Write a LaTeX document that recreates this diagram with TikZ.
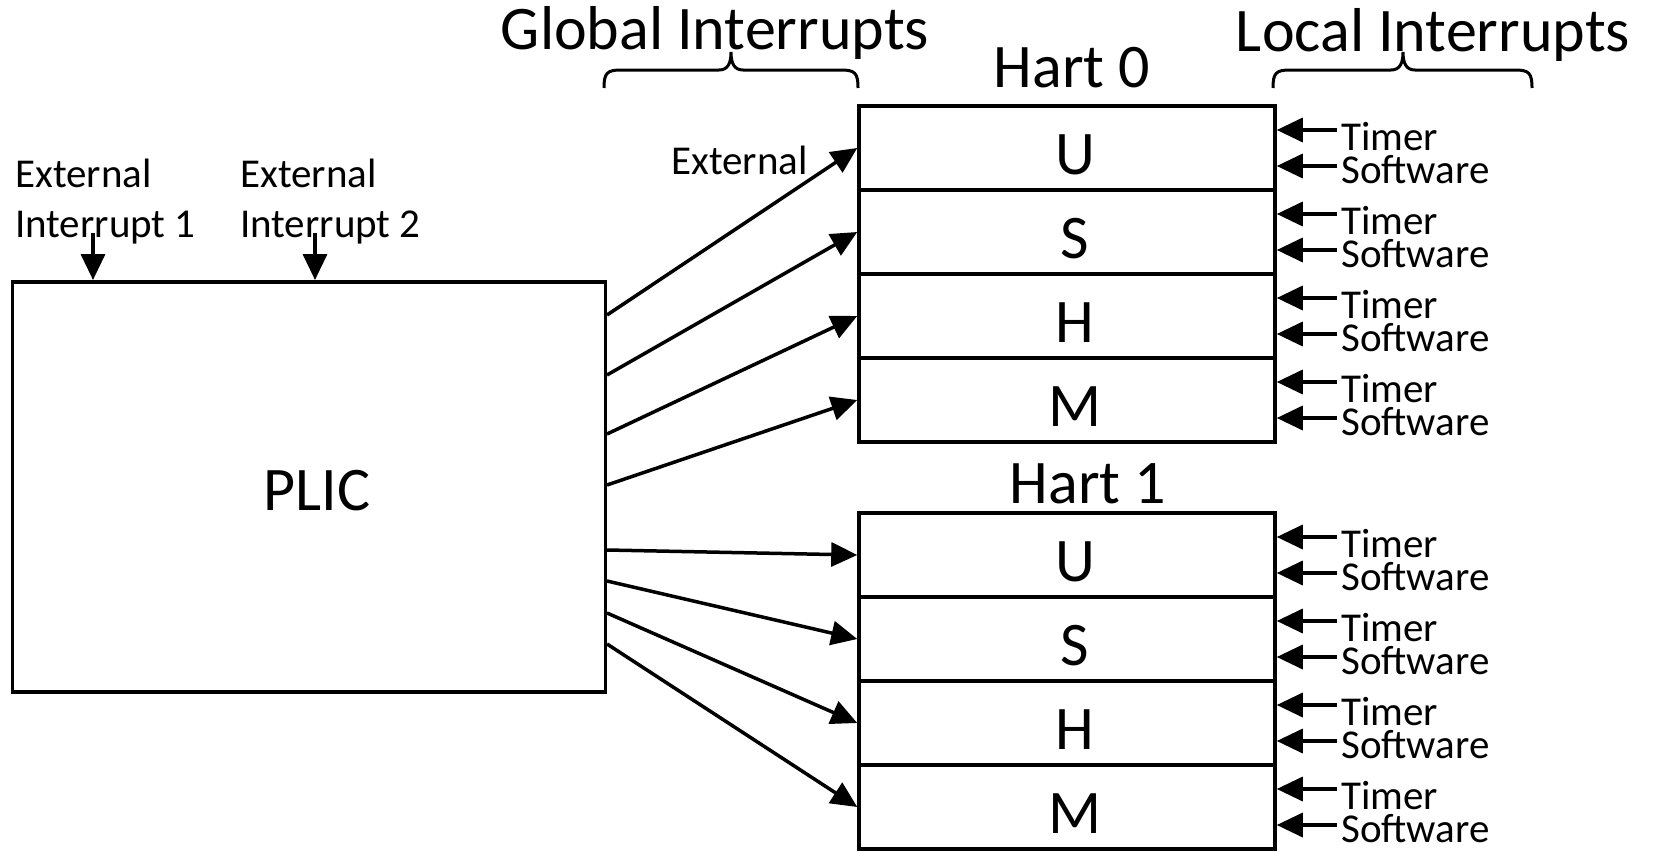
\documentclass[tikz,border=0pt]{standalone}
\usepackage{fontspec}
\setmainfont{Carlito}
\usetikzlibrary{arrows.meta,calc}
\begin{document}
\begin{tikzpicture}[x=1pt,y=-1pt,
  box/.style={draw,line width=3.5pt,inner sep=0pt},
  row/.style={box,minimum width=416pt,minimum height=84pt},
  big/.style={inner sep=0pt,font=\fontsize{62}{70}\selectfont},
  small/.style={inner sep=0pt,font=\fontsize{41}{49}\selectfont},
  arr/.style={line width=3.5pt,-{Triangle[length=26pt,width=24pt]}},
  brc/.style={line width=3pt}]
\useasboundingbox (0,0) rectangle (1656,851);
\node[box,minimum width=593pt,minimum height=410pt,anchor=north west] (plic) at (10.5,280) {};
\node[big] (plicl) at (317,491) {PLIC};
\foreach \n/\l/\c in {h0u/U/148, h0s/S/232, h0h/H/316, h0m/M/400, h1u/U/555, h1s/S/639, h1h/H/723, h1m/M/807} {
  \node[row] (\n) at (1067,\c) {};
  \node[big] (l\n) at ($(\n.center)+(8,7)$) {\l};
  \coordinate (t\n) at (1337,\c-18);
  \coordinate (s\n) at (1337,\c+18);
  \draw[arr] (t\n) -- (t\n -| \n.east);
  \draw[arr] (s\n) -- (s\n -| \n.east);
  \node[small,anchor=base west] (tl\n) at ($(t\n)+(4,20)$) {Timer};
  \node[small,anchor=base west] (sl\n) at ($(s\n)+(4,17)$) {Software};
}
\foreach \o/\n in {35/h0u, 95/h0s, 154/h0h, 205/h0m, 270/h1u, 301/h1s, 333/h1h, 364/h1m}
  \draw[arr] ($(plic.north east)+(0,\o)$) -- (\n.west);
% braces
\foreach \a/\m/\b in {604/731/858, 1273/1403/1532}
  \draw[brc] (\a,88) .. controls (\a,73) and (\a+3,70) .. (\a+17,70) -- (\m-12,70)
    .. controls (\m-3,70) and (\m,63) .. (\m,52)
    .. controls (\m,63) and (\m+3,70) .. (\m+12,70) -- (\b-17,70)
    .. controls (\b-3,70) and (\b,73) .. (\b,88);
\node[big,anchor=base] (gi) at (715,50) {Global Interrupts};
\node[big,anchor=base] (li) at (1433,52) {Local Interrupts};
\node[big,anchor=base] (hart0) at (1072,88) {Hart 0};
\node[big,anchor=base] (hart1) at (1088,503) {Hart 1};
\node[small,anchor=base east] (ext) at (808,174) {External};
\node[small,anchor=base west] (e1a) at (15,187) {External};
\node[small,anchor=base west] (e1b) at (15,237) {Interrupt 1};
\node[small,anchor=base west] (e2a) at (240,187) {External};
\node[small,anchor=base west] (e2b) at (240,237) {Interrupt 2};
\coordinate (ei1) at (93,233);
\coordinate (ei2) at (315,233);
\draw[arr] (ei1) -- (ei1 |- plic.north);
\draw[arr] (ei2) -- (ei2 |- plic.north);
\end{tikzpicture}
\end{document}
